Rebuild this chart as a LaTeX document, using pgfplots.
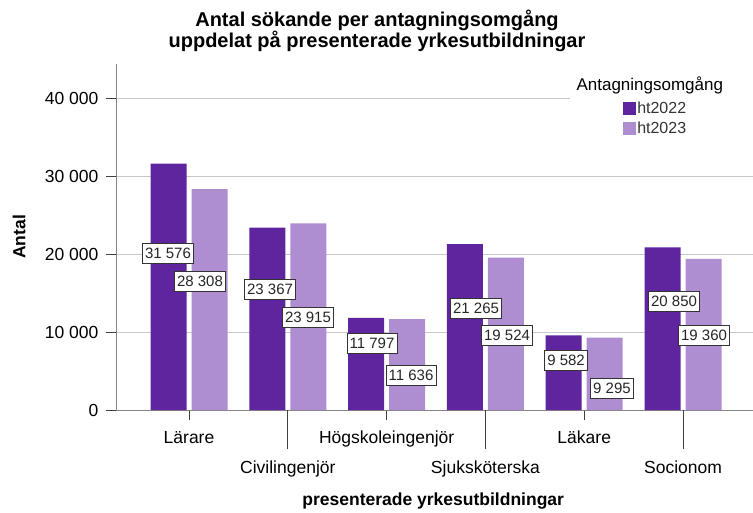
\documentclass[border=0pt]{standalone}
\usepackage{fontspec}
\setmainfont{Liberation Sans}
\usepackage{pgfplots}
\usepackage{pgfplotstable}
\pgfplotsset{compat=1.18}
\definecolor{darkp}{HTML}{5F259F}
\definecolor{lightp}{HTML}{AE8ED0}
\definecolor{gridc}{HTML}{C8C8C8}
\definecolor{axisc}{HTML}{858585}

% bar values per category (0 = Lärare ... 5 = Socionom)
\pgfplotstableread{
x   ht2022  ht2023
0   31576   28308
1   23367   23915
2   11797   11636
3   21265   19524
4   9582    9295
5   20850   19360
}\sokande

% where the value boxes sit (x, y in axis units) and what they show
\pgfplotstableread{
x       y       v
-0.213  20128   31576
0.111   16538   28308
0.820   15513   23367
1.204   11923   23915
1.852   8590    11797
2.247   4487    11636
2.905   13077   21265
3.219   9615    19524
3.816   6410    9582
4.281   2821    9295
4.909   13974   20850
5.213   9615    19360
}\etiketter

\begin{document}
\begin{tikzpicture}
\useasboundingbox (0pt,0pt) rectangle (753pt,512pt);
\node[align=center, font=\bfseries\fontsize{20}{20}\selectfont] at (377pt,481pt)
  {Antal sökande per antagningsomgång\\uppdelat på presenterade yrkesutbildningar};
\begin{axis}[
    at={(116pt,102pt)}, anchor=south west,
    scale only axis,
    width=637pt, height=346pt,
    xmin=-0.739, xmax=5.708,
    ymin=0, ymax=44359,
    clip=false,
    axis x line*=bottom, axis y line*=left,
    axis line style={axisc, line width=0.8pt},
    ymajorgrids,
    grid style={gridc, line width=0.8pt},
    ytick={0,10000,20000,30000,40000},
    scaled y ticks=false,
    tick align=outside,
    major tick length=10pt,
    tick style={black!75, line width=0.8pt},
    xtick={0,2,4},
    xticklabels={Lärare,Högskoleingenjör,Läkare},
    extra x ticks={1,3,5},
    extra x tick labels={Civilingenjör,Sjuksköterska,Socionom},
    extra x tick style={major tick length=39pt,
        xticklabel style={yshift=-1pt}},
    xticklabel style={font=\fontsize{17.5}{20}\selectfont, anchor=base, yshift=-23pt},
    yticklabel style={font=\fontsize{17.5}{20}\selectfont, xshift=-4pt},
    /pgf/number format/assume math mode=true,
    /pgf/number format/1000 sep={\ },
    ylabel={Antal},
    ylabel style={at={(axis description cs:-0.152,0.5)}, anchor=center,
        font=\bfseries\fontsize{17.5}{20}\selectfont},
    xlabel={presenterade yrkesutbildningar},
    xlabel style={at={(axis description cs:0.498,-0.275)}, anchor=base,
        font=\bfseries\fontsize{17.5}{20}\selectfont},
    legend style={at={(axis description cs:0.796,0.893)}, anchor=north west,
        draw=none, fill=none, inner sep=0pt, row sep=5pt,
        font=\fontsize{16}{18}\selectfont,
        nodes={inner sep=1pt, text=black!80}},
    legend cell align=left,
]
\addplot[ybar, bar width=36pt, bar shift=-20.5pt, fill=darkp, draw=none,
    legend image code/.code={\fill[darkp] (0pt,-6.5pt) rectangle (13pt,6.5pt);}]
    table[x=x, y=ht2022] {\sokande};
\addlegendentry{ht2022}
\addplot[ybar, bar width=36pt, bar shift=20.5pt, fill=lightp, draw=none,
    legend image code/.code={\fill[lightp] (0pt,-6.5pt) rectangle (13pt,6.5pt);}]
    table[x=x, y=ht2023] {\sokande};
\addlegendentry{ht2023}
% value boxes
\addplot[draw=none, mark=none, forget plot,
    nodes near coords, point meta=explicit,
    every node near coord/.style={anchor=center, fill=white, draw=black!80,
        line width=0.6pt, inner xsep=2.5pt, inner ysep=4.5pt,
        font=\fontsize{15}{17}\selectfont, text=black!85}]
    table[x=x, y=y, meta=v] {\etiketter};
% legend area hides the top grid line
\fill[white] (rel axis cs:0.713,0.752) rectangle (rel axis cs:1,0.99);
\node[font=\fontsize{17}{20}\selectfont] at (rel axis cs:0.838,0.939) {Antagningsomgång};
\end{axis}
\end{tikzpicture}
\end{document}
